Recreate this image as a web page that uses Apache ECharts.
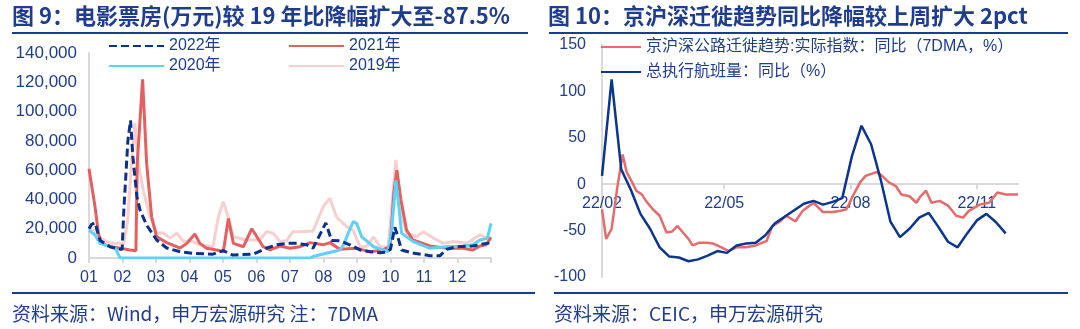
<!DOCTYPE html>
<html><head><meta charset="utf-8">
<script src="https://cdn.jsdelivr.net/npm/echarts/dist/echarts.min.js"></script>
<style>html,body{margin:0;padding:0;background:#fff}#c{width:1080px;height:329px}</style>
</head><body><div id="c"></div>
<script>
// ---------- Left chart: movie box office (10k RMB), 7DMA; x = month position (0 = 01 start, 12 = year end)
const monthLabels = ['01','02','03','04','05','06','07','08','09','10','11','12'];
const yTicksLeft = [0, 20000, 40000, 60000, 80000, 100000, 120000, 140000];

const x2022 = [0,0.08,0.18,0.33,0.63,0.93,0.99,1.04,1.16,1.24,1.31,1.43,1.52,1.72,2.02,2.32,2.72,3.1,3.7,4.0,4.3,4.9,5.31,5.61,5.91,6.21,6.5,6.69,7.07,7.24,7.49,7.79,8.09,8.39,8.69,8.89,9.0,9.13,9.2,9.33,9.67,10.18,10.48,10.68,10.98,11.46,11.87,12.0];
const v2022 = [20000,23000,24000,12000,7700,6000,6000,33000,80000,94000,69000,42000,33000,22500,12300,6800,4300,3200,2600,5000,2000,2700,6800,9000,10000,10000,9000,6800,24000,12000,11800,9000,5500,4300,3600,4000,6000,21000,16000,5500,3400,1600,1600,6000,7700,8200,10000,10500];

const x2021 = [0,0.18,0.28,0.38,0.63,0.93,1.22,1.4,1.44,1.6,1.72,1.87,2.02,2.32,2.72,2.92,3.16,3.31,3.51,3.81,4.01,4.16,4.31,4.61,4.86,5.01,5.2,5.4,5.7,6.0,6.3,6.6,6.99,7.19,7.49,7.99,8.39,8.78,8.99,9.1,9.19,9.31,9.48,9.67,10.18,10.68,11.16,11.46,11.67,11.85,12.0];
const v2021 = [61000,35000,17000,10000,7700,6600,5500,5000,64700,122000,64700,28000,14500,10500,6800,10000,16400,10000,6600,5500,4300,27000,10000,7700,20000,14500,7700,5500,8200,6600,7700,10500,9000,10500,6000,6600,4300,5500,8000,45000,60000,40000,19000,12300,8200,6600,6600,5500,8200,9000,14000];

const x2020 = [0,0.05,0.18,0.33,0.63,0.81,0.84,0.93,6.6,6.69,6.99,7.49,7.6,7.74,7.89,7.99,8.14,8.49,8.78,8.93,9.04,9.16,9.25,9.33,9.67,10.18,10.68,11.16,11.46,11.67,11.89,12.0];
const v2020 = [19000,19000,15700,10000,7700,6000,4000,0,0,1000,2700,5500,9000,17000,25000,23500,14500,7700,5500,4300,20000,53000,35000,17000,11300,6600,7700,8000,9000,12300,13400,23600];

const x2019 = [0,0.05,0.18,0.33,0.63,1.04,1.15,1.27,1.37,1.47,1.62,1.82,2.02,2.22,2.42,2.62,2.81,3.01,3.31,3.7,3.86,4.01,4.16,4.31,4.71,5.1,5.3,5.49,5.7,5.9,6.09,6.3,6.69,6.99,7.19,7.39,7.69,7.88,8.09,8.29,8.49,8.69,8.93,9.04,9.16,9.33,9.48,9.78,9.98,10.28,10.58,10.88,11.28,11.67,11.87,12.0];
const v2019 = [20000,21000,19000,13700,10000,10000,25000,65000,92000,64700,46000,28000,17000,17000,13600,17000,11300,12000,9000,7700,28000,38500,28000,14500,12300,12300,18000,17000,11300,12000,18000,18000,18500,35000,40800,28000,21400,19000,7700,8000,14500,7700,7700,35000,67000,30500,17000,14500,18000,13600,10000,11300,10000,15900,13600,14500];

// ---------- Right chart: YoY %, x = days since 2022-02-01
const rightTickDays = [0, 89, 181, 273];
const rightTickLabels = ['22/02','22/05','22/08','22/11'];
const rightYMin = -100, rightYMax = 150;
const roadDays = [0,3,7,11,15,18,22,25,29,32,37,42,47,51,55,59,63,66,71,76,81,87,92,98,105,112,120,124,129,134,141,146,154,161,168,173,178,184,188,192,200,204,209,214,218,224,229,232,236,240,246,252,258,263,267,275,282,288,294,303];
const roadYoY = [-27,-59,-48,-5,32,13,2,-7,-11,-18,-27,-34,-52,-51,-45,-52,-59,-66,-63,-63,-64,-68,-72,-68,-68,-66,-61,-45,-41,-34,-40,-29,-20,-30,-30,-29,-27,-9,2,9,13,9,2,-2,-11,-13,-20,-13,-7,-20,-18,-23,-34,-36,-29,-22,-20,-9,-11,-11];
const flightDays = [0,7,14,21,28,35,42,49,56,63,70,77,84,91,98,105,112,119,126,133,140,147,154,161,168,175,182,189,196,203,210,217,224,231,238,245,252,259,266,273,280,287,294];
const flightYoY = [9,113,16,-6,-32,-48,-68,-78,-79,-83,-81,-77,-72,-74,-66,-64,-63,-55,-42,-35,-28,-21,-18,-22,-19,-15,30,63,43,5,-40,-57,-48,-36,-31,-46,-62,-68,-53,-39,-32,-41,-53];

const BLUE_TXT = '#1f3d8f';
const AXIS_GRAY = '#d9d9d9';
const FONT_NUM = "'Liberation Sans', Arial, 'Noto Sans CJK SC', sans-serif";
const FONT_CJK = "'Noto Sans CJK SC', 'Liberation Sans', sans-serif";

const zip = (xs, ys) => xs.map((x, i) => [x, ys[i]]);

const chart = echarts.init(document.getElementById('c'), null, {renderer: 'canvas'});

function legendAt(name, left, top, w) {
  return {data: [name], left: left, top: top, padding: 0, itemWidth: w, itemHeight: 14, itemGap: 0,
    itemStyle: {opacity: 0},
    textStyle: {fontSize: 16, color: BLUE_TXT, fontFamily: FONT_NUM}};
}

// right plot geometry (layout): top 45, height 232; label grid ends at y of value 0
const rTop = 45, rH = 232;
const rZeroH = rH * rightYMax / (rightYMax - rightYMin);

const option = {
  animation: false,
  title: [
    {text: '图 9：电影票房(万元)较 19 年比降幅扩大至-87.5%', left: 12, top: 5, padding: 0,
     textStyle: {fontSize: 22, fontWeight: 'bold', color: BLUE_TXT, fontFamily: FONT_CJK}},
    {text: '图 10：京沪深迁徙趋势同比降幅较上周扩大 2pct', left: 548, top: 5, padding: 0,
     textStyle: {fontSize: 22, fontWeight: 'bold', color: BLUE_TXT, fontFamily: FONT_CJK}},
    {text: '资料来源：Wind，申万宏源研究 注：7DMA', left: 12, top: 304, padding: 0,
     textStyle: {fontSize: 19, fontWeight: 'normal', color: BLUE_TXT, fontFamily: FONT_CJK}},
    {text: '资料来源：CEIC，申万宏源研究', left: 554, top: 304, padding: 0,
     textStyle: {fontSize: 19, fontWeight: 'normal', color: BLUE_TXT, fontFamily: FONT_CJK}}
  ],
  graphic: [
    {type: 'line', shape: {x1: 12, y1: 33, x2: 528, y2: 33}, style: {stroke: '#1b3c93', lineWidth: 2}},
    {type: 'line', shape: {x1: 549, y1: 33, x2: 1068, y2: 33}, style: {stroke: '#1b3c93', lineWidth: 2}},
    {type: 'line', shape: {x1: 12, y1: 293, x2: 535, y2: 293}, style: {stroke: '#1b3c93', lineWidth: 2}},
    {type: 'line', shape: {x1: 554, y1: 293, x2: 1068, y2: 293}, style: {stroke: '#1b3c93', lineWidth: 2}}
  ],
  legend: [
    legendAt('2022年', 108, 38, 55),
    legendAt('2021年', 288, 38, 55),
    legendAt('2020年', 108, 58, 55),
    legendAt('2019年', 288, 58, 55),
    legendAt('京沪深公路迁徙趋势:实际指数：同比（7DMA，%）', 600, 39, 40),
    legendAt('总执行航班量：同比（%）', 600, 64, 40)
  ],
  grid: [
    {left: 89, right: 589, top: 53, bottom: 71},
    {left: 602, right: 62, top: rTop, height: rH},
    {left: 602, right: 62, top: rTop, height: rZeroH}
  ],
  xAxis: [
    {type: 'value', gridIndex: 0, min: 0, max: 12, interval: 1,
     axisLine: {lineStyle: {color: AXIS_GRAY, width: 2}},
     axisTick: {show: true, length: 5, lineStyle: {color: AXIS_GRAY, width: 2}},
     splitLine: {show: false},
     axisLabel: {margin: 12, fontSize: 16, color: BLUE_TXT, fontFamily: FONT_NUM,
       formatter: v => (v < 12 ? monthLabels[v] : '')}},
    {type: 'value', gridIndex: 1, min: 0, max: 303,
     axisLine: {onZero: true, lineStyle: {color: AXIS_GRAY, width: 2}},
     axisTick: {show: false}, axisLabel: {show: false}, splitLine: {show: false}},
    {type: 'value', gridIndex: 2, min: 0, max: 303,
     axisLine: {show: false},
     axisTick: {show: true, customValues: rightTickDays, length: 5, lineStyle: {color: AXIS_GRAY, width: 2}},
     splitLine: {show: false},
     axisLabel: {customValues: rightTickDays, margin: 11, fontSize: 16, color: BLUE_TXT, fontFamily: FONT_NUM,
       formatter: v => { const i = rightTickDays.indexOf(v); return i >= 0 ? rightTickLabels[i] : ''; }}}
  ],
  yAxis: [
    {type: 'value', gridIndex: 0, min: yTicksLeft[0], max: yTicksLeft[yTicksLeft.length - 1], interval: 20000,
     axisLine: {show: true, lineStyle: {color: AXIS_GRAY, width: 2}},
     axisTick: {show: false}, splitLine: {show: false},
     axisLabel: {margin: 12, fontSize: 17, color: BLUE_TXT, fontFamily: FONT_NUM,
       formatter: v => v.toLocaleString('en-US')}},
    {type: 'value', gridIndex: 1, min: rightYMin, max: rightYMax, interval: 50,
     axisLine: {show: true, onZero: false, lineStyle: {color: AXIS_GRAY, width: 2}},
     axisTick: {show: false}, splitLine: {show: false},
     axisLabel: {margin: 16, fontSize: 16, color: BLUE_TXT, fontFamily: FONT_NUM}},
    {type: 'value', gridIndex: 2, min: 0, max: 1, show: false}
  ],
  series: [
    {name: '2019年', type: 'line', xAxisIndex: 0, yAxisIndex: 0, symbol: 'none', data: zip(x2019, v2019),
     color: '#f8cfce', lineStyle: {width: 3, color: '#f8cfce'}},
    {name: '2021年', type: 'line', xAxisIndex: 0, yAxisIndex: 0, symbol: 'none', data: zip(x2021, v2021),
     color: '#e4605f', lineStyle: {width: 3, color: '#e4605f'}},
    {name: '2020年', type: 'line', xAxisIndex: 0, yAxisIndex: 0, symbol: 'none', data: zip(x2020, v2020),
     color: '#5cd2f6', lineStyle: {width: 3, color: '#5cd2f6'}},
    {name: '2022年', type: 'line', xAxisIndex: 0, yAxisIndex: 0, symbol: 'none', data: zip(x2022, v2022),
     color: '#0b318f', lineStyle: {width: 3, color: '#0b318f', type: [8, 4]}},
    {name: '京沪深公路迁徙趋势:实际指数：同比（7DMA，%）', type: 'line', xAxisIndex: 1, yAxisIndex: 1, symbol: 'none',
     data: zip(roadDays, roadYoY), color: '#e86a6a', lineStyle: {width: 2.5, color: '#e86a6a'}},
    {name: '总执行航班量：同比（%）', type: 'line', xAxisIndex: 1, yAxisIndex: 1, symbol: 'none',
     data: zip(flightDays, flightYoY), color: '#0b3592', lineStyle: {width: 2.5, color: '#0b3592'}}
  ]
};
chart.setOption(option);
</script>
</body></html>
